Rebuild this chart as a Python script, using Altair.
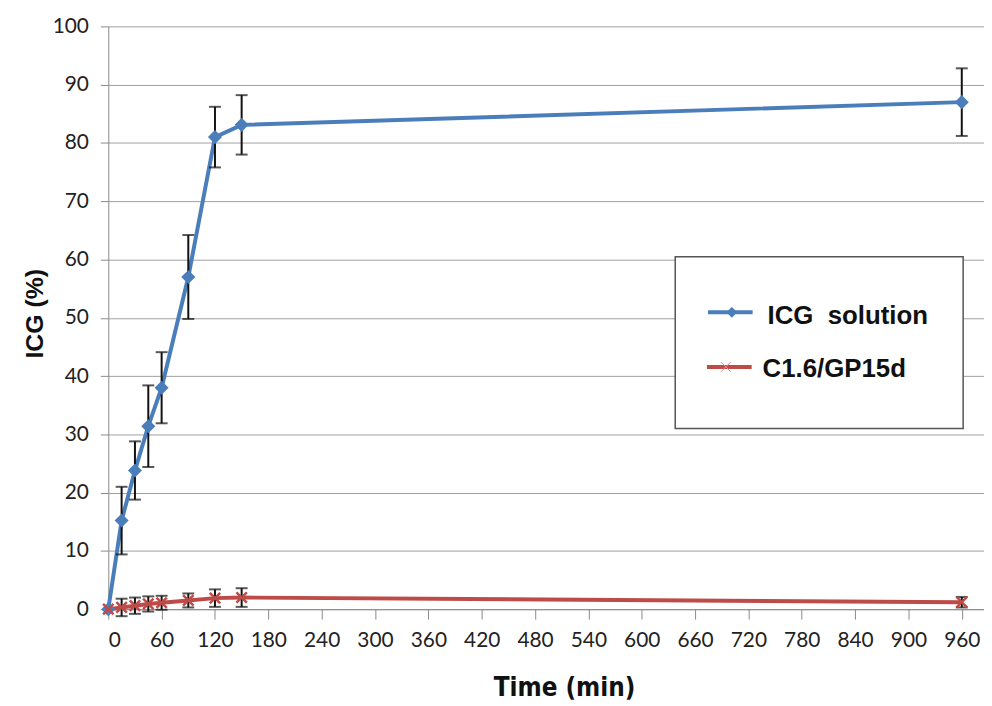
import altair as alt
import pandas as pd

times = [0, 15, 30, 45, 60, 90, 120, 150, 960]
icg_mean = [0, 15.2, 23.8, 31.4, 38.0, 57.0, 81.0, 83.1, 87.0]
icg_err = [0, 5.8, 5.0, 7.0, 6.1, 7.2, 5.2, 5.1, 5.8]
c16_mean = [0, 0.3, 0.6, 0.9, 1.1, 1.5, 1.9, 2.0, 1.2]
c16_err = [0, 1.5, 1.4, 1.3, 1.2, 1.2, 1.5, 1.6, 0.9]
series_names = ["ICG\u00a0 solution", "C1.6/GP15d"]
series_colors = ["#4A7EBB", "#BE4B48"]
x_ticks = list(range(0, 961, 60))
y_ticks = list(range(0, 101, 10))

rows = []
for name, means, errs in [(series_names[0], icg_mean, icg_err), (series_names[1], c16_mean, c16_err)]:
    for t, m, e in zip(times, means, errs):
        rows.append({"series": name, "time": t, "value": m, "lo": m - e, "hi": m + e})
df = pd.DataFrame(rows)
err_df = df[df["hi"] > df["lo"]]

LABEL_FONT = "Lato, DejaVu Sans Condensed, sans-serif"
TITLE_FONT = "DejaVu Sans Condensed, DejaVu Sans, sans-serif"
BOLD_FONT = "Liberation Sans, Arial, sans-serif"
X_SHAPE = "M -1 -1 L 1 1 M -1 1 L 1 -1"

xscale = alt.Scale(domain=[0, 985], nice=False, zero=False)
yscale = alt.Scale(domain=[0, 100], nice=False)
color = alt.Color("series:N", scale=alt.Scale(domain=series_names, range=series_colors), legend=None)

x_enc = alt.X("time:Q", scale=xscale, axis=alt.Axis(
    values=x_ticks, grid=False, title="Time (min)", domainColor="#8a8a8a", tickColor="#8a8a8a",
    tickSize=10, labelFontSize=21, labelFont=LABEL_FONT, labelColor="#222", labelPadding=11,
    titleFont=TITLE_FONT, titleFontSize=26, titleFontWeight="bold", titleColor="#111",
    titleX=459, titleY=87, titleAlign="center", titleBaseline="alphabetic"))
y_enc = alt.Y("value:Q", scale=yscale, axis=alt.Axis(
    values=y_ticks, grid=True, gridColor="#a0a0a0", domainColor="#8a8a8a", tickColor="#8a8a8a",
    tickSize=8, labelFontSize=21, labelFont=LABEL_FONT, labelColor="#222", labelPadding=12,
    title="ICG (%)", titleFont=BOLD_FONT, titleFontSize=25, titleFontWeight="bold", titleColor="#111",
    titleX=-66, titleY=289, titleAngle=-90, titleAlign="center", titleBaseline="alphabetic"))

base = alt.Chart(df)
lines = base.mark_line(strokeWidth=4).encode(x=x_enc, y=y_enc, color=color)
bars = alt.Chart(err_df).mark_rule(color="#111", strokeWidth=2).encode(
    x=alt.X("time:Q", scale=xscale), y=alt.Y("lo:Q", scale=yscale), y2="hi:Q")
caps_hi = alt.Chart(err_df).mark_tick(color="#111", orient="horizontal", size=12, thickness=2).encode(
    x=alt.X("time:Q", scale=xscale), y=alt.Y("hi:Q", scale=yscale))
caps_lo = alt.Chart(err_df).mark_tick(color="#111", orient="horizontal", size=12, thickness=2).encode(
    x=alt.X("time:Q", scale=xscale), y=alt.Y("lo:Q", scale=yscale))
diamonds = alt.Chart(df[df["series"] == series_names[0]]).mark_point(
    shape="diamond", filled=True, size=200, opacity=1, color=series_colors[0]).encode(
    x=alt.X("time:Q", scale=xscale), y=alt.Y("value:Q", scale=yscale))
crosses = alt.Chart(df[df["series"] == series_names[1]]).mark_point(
    shape=X_SHAPE, filled=False, size=110, opacity=1, strokeWidth=2.5, color=series_colors[1]).encode(
    x=alt.X("time:Q", scale=xscale), y=alt.Y("value:Q", scale=yscale))

one = alt.Data(values=[{"k": 1}])
box = alt.Chart(one).mark_rect(fill="white", stroke="#555", strokeWidth=1.5).encode(
    x=alt.value(571), x2=alt.value(861), y=alt.value(232), y2=alt.value(405))
leg_line1 = alt.Chart(one).mark_rule(color=series_colors[0], strokeWidth=4).encode(
    x=alt.value(604), x2=alt.value(649), y=alt.value(288))
leg_pt1 = alt.Chart(one).mark_point(shape="diamond", filled=True, size=120, opacity=1, color=series_colors[0]).encode(
    x=alt.value(628), y=alt.value(288))
leg_line2 = alt.Chart(one).mark_rule(color=series_colors[1], strokeWidth=4).encode(
    x=alt.value(603), x2=alt.value(648), y=alt.value(343))
leg_pt2 = alt.Chart(one).mark_point(shape=X_SHAPE, filled=False, size=100, strokeWidth=1, opacity=1, color="#e08a88").encode(
    x=alt.value(622), y=alt.value(343))
leg_txt1 = alt.Chart(one).mark_text(text=series_names[0], font=BOLD_FONT, fontSize=26, fontWeight="bold",
                                    align="left", baseline="alphabetic", color="#111").encode(
    x=alt.value(664), y=alt.value(300))
leg_txt2 = alt.Chart(one).mark_text(text=series_names[1], font=BOLD_FONT, fontSize=26, fontWeight="bold",
                                    align="left", baseline="alphabetic", color="#111").encode(
    x=alt.value(659), y=alt.value(353))

chart = alt.layer(lines, bars, caps_hi, caps_lo, diamonds, crosses,
                  box, leg_line1, leg_pt1, leg_line2, leg_pt2, leg_txt1, leg_txt2).properties(
    width=882, height=587,
    autosize=alt.AutoSizeParams(type="none"),
    padding={"left": 101, "top": 16, "right": 0, "bottom": 95},
    background="white",
).configure_view(stroke=None)

chart.save("out.html", embed_options={"renderer": "svg", "actions": False})
